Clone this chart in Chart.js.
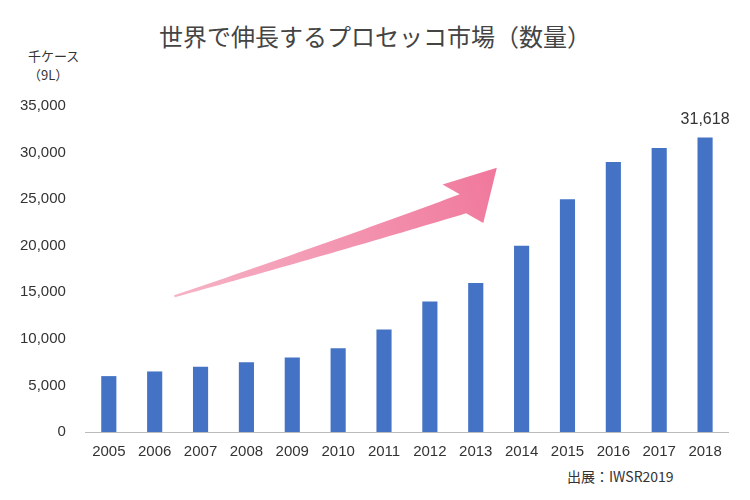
<!DOCTYPE html>
<html><head><meta charset="utf-8">
<script src="https://cdn.jsdelivr.net/npm/chart.js@4/dist/chart.umd.min.js"></script>
<style>body{margin:0;background:#fff}#w{position:relative;width:750px;height:500px}
.t{position:absolute;font-family:"Noto Sans CJK JP",sans-serif;color:#333}</style>
</head><body><div id="w">
<div class="t" style="left:0;width:750px;top:18px;text-align:center;font-size:24px;color:#444">世界で伸長するプロセッコ市場（数量）</div>
<div class="t" style="left:28px;top:46px;font-size:13px;line-height:19px">千ケース<br>（9L）</div>
<div class="t" style="left:567px;top:466px;font-size:14px">出展：IWSR2019</div>
<canvas id="c" width="750" height="500" style="position:absolute;left:0;top:0"></canvas></div>
<script>
const categories=["2005","2006","2007","2008","2009","2010","2011","2012","2013","2014","2015","2016","2017","2018"];
const volumes=[6000,6500,7000,7500,8000,9000,11000,14000,16000,20000,25000,29000,30500,31618];
// arrow path in (category index, value) space
const arrowTail=[1.43,14570], arrowCtrl=[4.72,19540], arrowBase=[7.72,24500], arrowTip=[8.46,28370];
const arrowPlugin={id:'arrow',afterDatasetsDraw(ch){
 const x=ch.scales.x,y=ch.scales.y,ctx=ch.ctx;
 const x0=x.getPixelForTick(0),dx=x.getPixelForTick(1)-x0;
 const P=p=>[x0+p[0]*dx,y.getPixelForValue(p[1])];
 const a=P(arrowTail),c=P(arrowCtrl),b=P(arrowBase),t=P(arrowTip);
 const N=40,L=[],R=[];
 for(let i=0;i<=N;i++){const s=i/N;
  const px=(1-s)*(1-s)*a[0]+2*(1-s)*s*c[0]+s*s*b[0],py=(1-s)*(1-s)*a[1]+2*(1-s)*s*c[1]+s*s*b[1];
  const tx=2*(1-s)*(c[0]-a[0])+2*s*(b[0]-c[0]),ty=2*(1-s)*(c[1]-a[1])+2*s*(b[1]-c[1]);
  const l=Math.hypot(tx,ty),nx=-ty/l,ny=tx/l,w=1+s*9;
  L.push([px+nx*w,py+ny*w]);R.push([px-nx*w,py-ny*w]);}
 const dxh=t[0]-b[0],dyh=t[1]-b[1],lh=Math.hypot(dxh,dyh),nx=-dyh/lh,ny=dxh/lh,hw=28;
 const g=ctx.createLinearGradient(a[0],a[1],t[0],t[1]);g.addColorStop(0,'#f6b3c6');g.addColorStop(1,'#f0789c');
 ctx.save();ctx.fillStyle=g;ctx.beginPath();ctx.moveTo(L[0][0],L[0][1]);
 L.forEach(p=>ctx.lineTo(p[0],p[1]));
 ctx.lineTo(b[0]+nx*hw,b[1]+ny*hw);ctx.lineTo(t[0],t[1]);ctx.lineTo(b[0]-nx*hw,b[1]-ny*hw);
 R.slice().reverse().forEach(p=>ctx.lineTo(p[0],p[1]));ctx.closePath();ctx.fill();
 const m=ch.getDatasetMeta(0).data[volumes.length-1];
 ctx.fillStyle='#333';ctx.font='16px "Liberation Sans",sans-serif';ctx.textAlign='center';
 ctx.fillText(volumes[volumes.length-1].toLocaleString('en-US'),m.x,m.y-14);
 ctx.restore();}};
new Chart(document.getElementById('c'),{type:'bar',
 data:{labels:categories,datasets:[{data:volumes,backgroundColor:'#4472c4',categoryPercentage:0.6,barPercentage:0.55}]},
 options:{responsive:false,animation:false,layout:{padding:{top:106,left:8,right:22,bottom:36}},
  plugins:{legend:{display:false},tooltip:{enabled:false}},
  scales:{x:{grid:{display:false},border:{color:'#bbb'},ticks:{color:'#333',font:{size:15,family:'"Liberation Sans"'},maxRotation:0,autoSkip:false}},
   y:{min:0,max:35000,grid:{display:false},border:{display:false},ticks:{stepSize:5000,color:'#333',padding:12,font:{size:15,family:'"Liberation Sans"'},callback:v=>v.toLocaleString('en-US')}}}},
 plugins:[arrowPlugin]});
</script></body></html>
